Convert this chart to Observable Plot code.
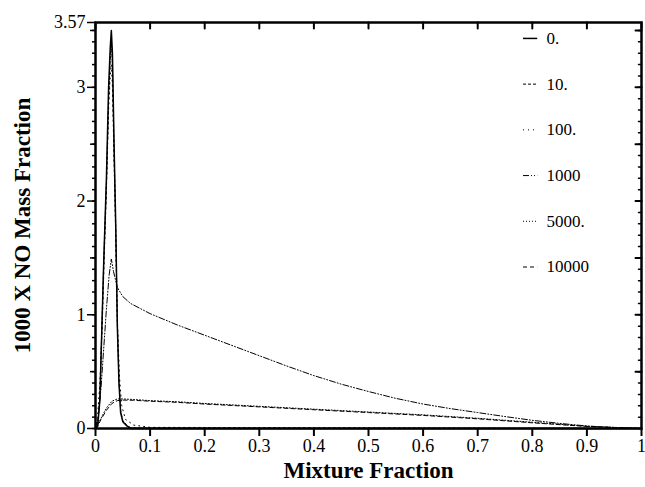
<!DOCTYPE html>
<html>
<head>
<meta charset="utf-8">
<script src="https://cdn.jsdelivr.net/npm/d3@7"></script>
<script src="https://cdn.jsdelivr.net/npm/@observablehq/plot@0.6"></script>
<style>
  body { margin: 0; background: #fff; }
  svg { display: block; }
</style>
</head>
<body>
<div id="chart"></div>
<script>
// ---- Data ----
const seriesNames = ["0.", "10.", "100.", "1000", "5000.", "10000"];
const seriesDash = ["none", "3,2", "1,4", "6,2,1,2,1,2", "1,2", "4,3"];

const x0 = [0, 0.004, 0.008, 0.010, 0.015, 0.020, 0.024, 0.027, 0.029, 0.031, 0.034, 0.037, 0.040, 0.043, 0.046, 0.050, 0.058, 0.065, 1.0];
const y0 = [0, 0.02, 0.25, 0.6, 1.45, 2.2, 3.0, 3.35, 3.5, 3.3, 2.5, 1.8, 0.9, 0.4, 0.14, 0.06, 0.02, 0, 0];

const x10 = [0, 0.004, 0.008, 0.010, 0.015, 0.020, 0.024, 0.027, 0.029, 0.031, 0.034, 0.037, 0.040, 0.043, 0.046, 0.050, 0.058, 0.065, 1.0];
const y10 = [0, 0.03, 0.28, 0.62, 1.45, 2.15, 2.9, 3.25, 3.4, 3.2, 2.45, 1.78, 0.92, 0.42, 0.16, 0.07, 0.025, 0.005, 0];

const x100 = [0, 0.004, 0.008, 0.012, 0.016, 0.020, 0.024, 0.027, 0.029, 0.031, 0.034, 0.037, 0.040, 0.044, 0.048, 0.055, 0.07, 0.1, 1.0];
const y100 = [0, 0.12, 0.4, 0.85, 1.5, 2.1, 2.8, 3.1, 3.2, 3.0, 2.35, 1.7, 0.95, 0.45, 0.2, 0.08, 0.03, 0.01, 0];

const x1000 = [0, 0.005, 0.010, 0.015, 0.020, 0.025, 0.029, 0.033, 0.040, 0.050, 0.064, 0.080, 0.100, 0.150, 0.200, 0.250, 0.300, 0.350, 0.400, 0.450, 0.500, 0.550, 0.600, 0.650, 0.700, 0.750, 0.800, 0.850, 0.900, 0.950, 1.0];
const y1000 = [0, 0.1, 0.35, 0.7, 1.05, 1.35, 1.49, 1.38, 1.24, 1.16, 1.10, 1.06, 1.01, 0.91, 0.82, 0.73, 0.64, 0.55, 0.465, 0.39, 0.325, 0.265, 0.215, 0.175, 0.14, 0.105, 0.072, 0.045, 0.022, 0.008, 0];

const x5000 = [0, 0.005, 0.010, 0.020, 0.030, 0.040, 0.050, 0.070, 0.100, 0.150, 0.200, 0.300, 0.400, 0.500, 0.600, 0.700, 0.800, 0.900, 1.0];
const y5000 = [0, 0.04, 0.09, 0.18, 0.24, 0.26, 0.26, 0.255, 0.245, 0.235, 0.22, 0.195, 0.17, 0.145, 0.12, 0.09, 0.055, 0.02, 0];

const x10000 = [0, 0.005, 0.010, 0.020, 0.030, 0.040, 0.050, 0.070, 0.100, 0.150, 0.200, 0.300, 0.400, 0.500, 0.600, 0.700, 0.800, 0.900, 1.0];
const y10000 = [0, 0.03, 0.08, 0.16, 0.22, 0.245, 0.25, 0.248, 0.24, 0.23, 0.215, 0.19, 0.165, 0.14, 0.115, 0.085, 0.05, 0.018, 0];

const xTicks = [0, 0.1, 0.2, 0.3, 0.4, 0.5, 0.6, 0.7, 0.8, 0.9, 1];
const xTickLabels = ["0", "0.1", "0.2", "0.3", "0.4", "0.5", "0.6", "0.7", "0.8", "0.9", "1"];
const yTicks = [0, 1, 2, 3, 3.57];
const yTickLabels = ["0", "1", "2", "3", "3.57"];
const yMid = [0.5, 1.5, 2.5, 3.5];
const yMinor = d3.range(0, 36).map(i => i / 10);

const xLabel = "Mixture Fraction";
const yLabel = "1000 X NO Mass Fraction";

// ---- Build tables ----
const seriesX = [x0, x10, x100, x1000, x5000, x10000];
const seriesY = [y0, y10, y100, y1000, y5000, y10000];
const tables = seriesNames.map((name, i) => seriesX[i].map((x, j) => ({series: name, x, y: seriesY[i][j]})));

// legend layout (in data units)
const legX1 = 0.783, legX2 = 0.809, legTX = 0.826, legTop = 3.43, legStep = 0.402;
const legend = seriesNames.map((name, i) => ({name, dash: seriesDash[i], y: legTop - i * legStep}));

// a plain line-segment shape for inward ticks
const tickShape = {draw(context, l) { context.moveTo(0, 0); context.lineTo(0, -l); }};

const marks = [];
tables.forEach((t, i) => {
  marks.push(Plot.line(t, {
    x: "x", y: "y", stroke: "black",
    strokeWidth: i === 0 ? 1.5 : 1,
    strokeDasharray: seriesDash[i] === "none" ? null : seriesDash[i]
  }));
});
legend.forEach((l) => {
  marks.push(Plot.link([l], {
    x1: () => legX1, x2: () => legX2, y1: "y", y2: "y",
    stroke: "black", strokeWidth: l.dash === "none" ? 1.5 : 1,
    strokeDasharray: l.dash === "none" ? null : l.dash
  }));
});
marks.push(Plot.text(legend, {x: () => legTX, y: "y", text: "name", textAnchor: "start", fontSize: 17, fill: "black"}));

const yRightMajor = yMid.concat([1, 2, 3]);

// axes
marks.push(
  Plot.axisX({ticks: xTicks, tickSize: 8, tickPadding: 3, tickFormat: d => xTickLabels[xTicks.indexOf(d)], fontSize: 18, strokeWidth: 2, label: null}),
  Plot.vector(xTicks, {x: d => d, y: () => 3.57, length: 6, rotate: 180, anchor: "start", shape: tickShape, stroke: "black", strokeWidth: 2}),
  Plot.axisY({ticks: yTicks, tickSize: 8, tickPadding: 2, tickFormat: d => yTickLabels[yTicks.indexOf(d)], fontSize: 18, strokeWidth: 1.5, label: null}),
  Plot.axisY({ticks: yMinor, tickSize: 3, tickFormat: () => "", strokeWidth: 1.5, label: null}),
  Plot.axisY({ticks: yMid, tickSize: 5, tickFormat: () => "", strokeWidth: 1.5, label: null}),
  Plot.vector(yMinor, {x: () => 1, y: d => d, length: 3, rotate: -90, anchor: "start", shape: tickShape, stroke: "black", strokeWidth: 1.5}),
  Plot.vector(yRightMajor, {x: () => 1, y: d => d, length: 6, rotate: -90, anchor: "start", shape: tickShape, stroke: "black", strokeWidth: 2}),
  Plot.frame({stroke: "black", strokeWidth: 2.5}),
  Plot.text([xLabel], {frameAnchor: "bottom", dy: 42, lineAnchor: "middle", textAnchor: "middle", text: d => d, fontSize: 23, fontWeight: "bold", fill: "black"}),
  Plot.text([yLabel], {frameAnchor: "left", dx: -73, rotate: -90, lineAnchor: "middle", textAnchor: "middle", text: d => d, fontSize: 23, fontWeight: "bold", fill: "black"})
);

const chart = Plot.plot({
  width: 645,
  height: 487,
  marginTop: 22,
  marginBottom: 59,
  marginLeft: 95,
  marginRight: 4,
  x: {domain: [0, 1]},
  y: {domain: [0, 3.57]},
  style: {fontFamily: "'Liberation Serif', 'Times New Roman', serif", fontSize: "18px", color: "black", background: "white"},
  marks
});
document.getElementById("chart").appendChild(chart);
</script>
</body>
</html>
